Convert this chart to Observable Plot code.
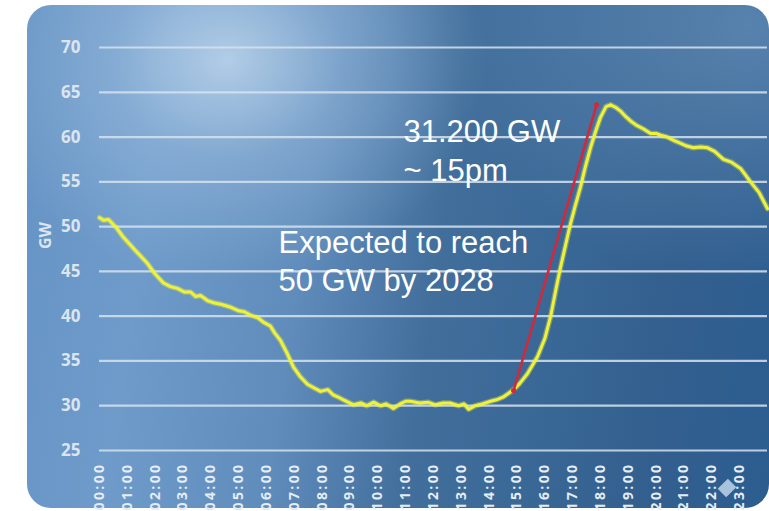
<!DOCTYPE html>
<html>
<head>
<meta charset="utf-8">
<script src="https://cdn.jsdelivr.net/npm/d3@7"></script>
<script src="https://cdn.jsdelivr.net/npm/@observablehq/plot@0.6"></script>
<style>
  html, body { margin: 0; padding: 0; background: #ffffff; }
  #wrap { position: relative; width: 769px; height: 511px; overflow: hidden; }
  #card {
    position: absolute; left: 27px; top: 5px; width: 742px; height: 503px;
    border-radius: 24px;
    background:
      radial-gradient(ellipse 260px 220px at 200px 55px, rgba(190,214,236,0.85) 0%, rgba(160,192,224,0.45) 45%, rgba(140,175,212,0) 100%),
      radial-gradient(ellipse 300px 260px at 720px 20px, rgba(120,160,200,0.55) 0%, rgba(120,160,200,0) 100%),
      linear-gradient(98deg, #6593c4 0%, #6e9bca 18%, #5f8cbb 38%, #416e9b 55%, #3a6896 70%, #325f8e 85%, #2c5d90 100%);
  }
  #diamond {
    position: absolute; left: 721px; top: 482px; width: 12px; height: 12px;
    background: #a9c3dc; transform: rotate(45deg) scale(1, 1.2);
  }
  #chart { position: absolute; left: 0; top: 0; }
  g[aria-label="x-axis tick label"] text { letter-spacing: 2.4px; }
</style>
</head>
<body>
<div id="wrap">
  <div id="card"></div>
  <div id="chart"></div>
  <div id="diamond"></div>
</div>
<script>
// Hours of day and load in GW
const hours = [0, 0.15, 0.32, 0.6, 0.86, 1.3, 1.72, 2.0, 2.3, 2.55, 2.8, 3.05, 3.27, 3.45, 3.63, 3.9, 4.1, 4.4, 4.71, 5.0, 5.2, 5.43, 5.7, 5.9, 6.14, 6.3, 6.5, 6.75, 6.97, 7.2, 7.47, 7.7, 7.94, 8.2, 8.4, 8.55, 8.8, 9.13, 9.4, 9.6, 9.85, 10.1, 10.3, 10.56, 10.8, 11.0, 11.17, 11.5, 11.8, 12.07, 12.35, 12.6, 12.9, 13.1, 13.26, 13.5, 13.75, 14.05, 14.3, 14.52, 14.7, 14.88, 15.1, 15.38, 15.55, 15.74, 16.0, 16.21, 16.4, 16.56, 16.75, 16.92, 17.1, 17.28, 17.45, 17.64, 17.82, 18.0, 18.2, 18.36, 18.55, 18.72, 18.9, 19.08, 19.3, 19.55, 19.8, 20.0, 20.16, 20.4, 20.65, 20.88, 21.1, 21.34, 21.6, 21.85, 22.1, 22.42, 22.7, 23.03, 23.2, 23.39, 23.7, 24];
const loadGW = [51.0, 50.7, 50.8, 49.9, 48.8, 47.3, 45.9, 44.7, 43.7, 43.3, 43.1, 42.7, 42.7, 42.2, 42.3, 41.7, 41.5, 41.3, 41.0, 40.6, 40.5, 40.1, 39.8, 39.3, 38.9, 38.1, 37.3, 35.8, 34.3, 33.3, 32.4, 32.0, 31.6, 31.8, 31.2, 31.0, 30.6, 30.1, 30.3, 30.0, 30.4, 30.0, 30.2, 29.7, 30.2, 30.5, 30.5, 30.3, 30.4, 30.1, 30.3, 30.3, 30.0, 30.2, 29.6, 30.0, 30.2, 30.5, 30.7, 31.0, 31.4, 31.8, 32.5, 33.6, 34.5, 35.5, 37.5, 40.0, 43.0, 45.4, 48.0, 50.3, 52.4, 54.4, 56.6, 58.8, 60.6, 62.2, 63.4, 63.6, 63.3, 62.9, 62.3, 61.8, 61.3, 60.9, 60.4, 60.4, 60.2, 60.0, 59.6, 59.3, 59.0, 58.8, 58.9, 58.8, 58.4, 57.5, 57.2, 56.5, 55.8, 55.0, 53.8, 52.0];

// Ramp (red line): start and end points
const rampHours = [14.88, 17.86];
const rampGW = [31.7, 63.6];

// Axis ticks
const yTicks = [25, 30, 35, 40, 45, 50, 55, 60, 65, 70];
const hourTicks = d3.range(0, 24);
const hourLabels = hourTicks.map(h => String(h).padStart(2, "0") + ":00");

// Annotation texts
const noteText = ["31.200 GW", "~ 15pm", "Expected to reach", "50 GW by 2028"];
const noteHour = [10.92, 10.92, 6.43, 6.43];
const noteGW = [60.5, 56.2, 48.15, 43.9];

const series = hours.map((h, i) => ({hour: h, gw: loadGW[i]}));
const ramp = [{x1: rampHours[0], y1: rampGW[0], x2: rampHours[1], y2: rampGW[1]}];
const rampPts = rampHours.map((h, i) => ({hour: h, gw: rampGW[i]}));
const notes = noteText.map((t, i) => ({text: t, hour: noteHour[i], gw: noteGW[i]}));

const chart = Plot.plot({
  width: 769,
  height: 511,
  marginLeft: 99,
  marginRight: 2,
  marginTop: 47,
  marginBottom: 61,
  style: {background: "transparent", color: "#dde7f1", fontFamily: "'Open Sans', sans-serif", overflow: "visible"},
  x: {domain: [0, 24]},
  y: {domain: [25, 70]},
  marks: [
    Plot.gridY(yTicks, {stroke: "#d6e2ee", strokeOpacity: 0.85, strokeWidth: 2.2}),
    Plot.axisY(yTicks, {tickSize: 0, tickPadding: 19, fontSize: 17, fontWeight: "bold", fill: "#dbe5ef", label: null}),
    Plot.axisX(hourTicks, {tickSize: 0, tickRotate: -90, tickPadding: 12, fontSize: 14, fontWeight: "bold", fill: "#e4ecf4",
      tickFormat: d => hourLabels[d], label: null}),
    Plot.text(["GW"], {frameAnchor: "left", dx: -54, dy: 0, rotate: -90, fontSize: 16, fontWeight: "bold", fill: "#dbe5ef", y: () => 47.5}),
    Plot.line(series, {x: "hour", y: "gw", stroke: "#f2f54a", strokeOpacity: 0.35, strokeWidth: 5.5, curve: "linear"}),
    Plot.line(series, {x: "hour", y: "gw", stroke: "#f0f23a", strokeWidth: 3, curve: "linear"}),
    Plot.link(ramp, {x1: "x1", y1: "y1", x2: "x2", y2: "y2", stroke: "#cf2a3c", strokeWidth: 2.6}),
    Plot.dot(rampPts, {x: "hour", y: "gw", r: 2.6, fill: "#cf2a3c"}),
    Plot.text(notes, {x: "hour", y: "gw", text: "text", textAnchor: "start", fontSize: 31, fill: "#ffffff",
      fontFamily: "'Liberation Sans', Arial, sans-serif"})
  ]
});
document.getElementById("chart").appendChild(chart);
</script>
</body>
</html>
